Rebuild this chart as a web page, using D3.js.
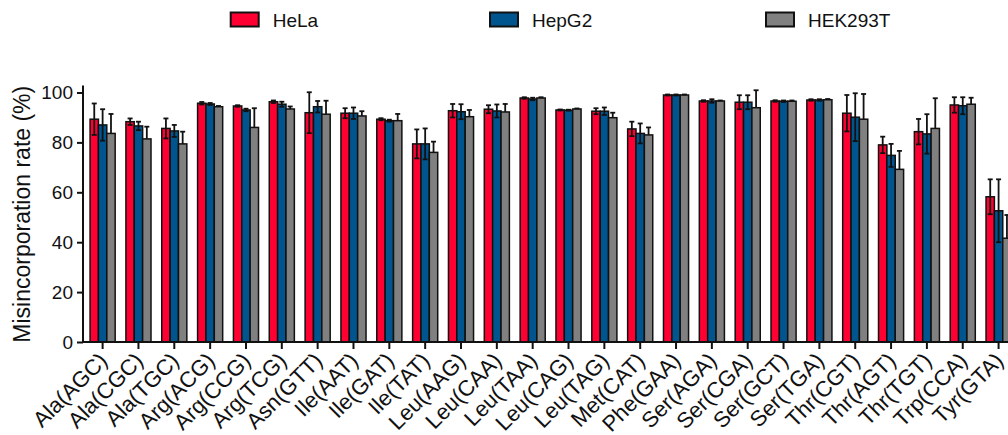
<!DOCTYPE html>
<html>
<head>
<meta charset="utf-8">
<script src="https://cdn.jsdelivr.net/npm/d3@7"></script>
<style>
    body { margin: 0; background: #fff; }
    text { font-family: "Liberation Sans", Arial, sans-serif; fill: #111; }
</style>
</head>
<body>
<div id="chart"></div>
<script>
// tRNA categories
const categories = ["Ala(AGC)", "Ala(CGC)", "Ala(TGC)", "Arg(ACG)", "Arg(CCG)", "Arg(TCG)", "Asn(GTT)",
    "Ile(AAT)", "Ile(GAT)", "Ile(TAT)", "Leu(AAG)", "Leu(CAA)", "Leu(TAA)", "Leu(CAG)", "Leu(TAG)",
    "Met(CAT)", "Phe(GAA)", "Ser(AGA)", "Ser(CGA)", "Ser(GCT)", "Ser(TGA)", "Thr(CGT)", "Thr(AGT)",
    "Thr(TGT)", "Trp(CCA)", "Tyr(GTA)"];

const seriesNames = ["HeLa", "HepG2", "HEK293T"];

// Mean values (%)
const hela = [89.3, 88.3, 85.6, 95.7, 94.6, 96.3, 91.9, 91.7, 89.3, 79.4, 92.7, 93.3, 97.8, 93.0, 92.5,
    85.4, 99.0, 96.6, 96.1, 96.6, 97.0, 91.7, 79.0, 84.3, 95.0, 58.2];
const hepg2 = [87.0, 86.6, 84.6, 95.4, 93.0, 95.3, 94.3, 91.7, 88.7, 79.4, 92.3, 92.6, 97.4, 92.9, 92.5,
    83.6, 99.0, 96.6, 96.1, 96.5, 97.0, 90.1, 74.8, 83.4, 94.7, 52.6];
const hek293t = [83.6, 81.4, 79.4, 94.3, 86.0, 93.4, 91.3, 90.6, 88.7, 76.0, 90.3, 92.2, 97.8, 93.4, 89.9,
    83.0, 99.0, 96.6, 93.9, 96.5, 97.1, 89.3, 69.2, 85.6, 95.3, 41.6];

// Error (SD)
const helaErr = [6.3, 1.3, 4.0, 0.5, 0.3, 0.5, 8.2, 2.0, 0.4, 5.8, 2.7, 1.6, 0.3, 0.2, 1.2,
    2.9, 0.2, 0.3, 2.8, 0.3, 0.3, 7.3, 3.3, 5.1, 3.1, 7.0];
const hepg2Err = [6.3, 1.7, 2.4, 0.4, 0.5, 1.0, 2.3, 2.3, 0.4, 6.2, 3.0, 2.6, 0.5, 0.2, 1.5,
    4.0, 0.2, 0.7, 2.8, 0.3, 0.3, 9.6, 4.6, 7.9, 3.4, 12.6];
const hek293tErr = [7.8, 4.9, 4.9, 0.3, 7.7, 1.0, 5.4, 1.9, 2.7, 4.3, 2.7, 3.2, 0.3, 0.2, 2.0,
    3.0, 0.2, 0.2, 7.0, 0.3, 0.3, 10.1, 7.4, 12.1, 2.6, 9.3];

const yTicks = [0, 20, 40, 60, 80, 100];

const colors = { "HeLa": "#ff0033", "HepG2": "#00558e", "HEK293T": "#808080" };

const values = { "HeLa": hela, "HepG2": hepg2, "HEK293T": hek293t };
const errors = { "HeLa": helaErr, "HepG2": hepg2Err, "HEK293T": hek293tErr };

// flat rows for drawing
const rows = [];
categories.forEach((c, i) => {
    seriesNames.forEach(s => {
        rows.push({ cat: c, series: s, value: values[s][i], err: errors[s][i] });
    });
});

const width = 1008, height = 435;

const svg = d3.select("#chart")
    .append("svg")
    .attr("width", width)
    .attr("height", height);

// Scales
const x = d3.scaleBand()
    .domain(categories)
    .range([84.7, 1016.5])
    .paddingInner(0.3)
    .paddingOuter(0.15);

const xs = d3.scaleBand()
    .domain(seriesNames)
    .range([0, x.bandwidth()]);

const y = d3.scaleLinear()
    .domain([0, 100])
    .range([342, 92.5]);

const axisX = 83;

// Bars
svg.selectAll(".bar")
    .data(rows)
    .enter().append("rect")
    .attr("class", "bar")
    .attr("x", d => x(d.cat) + xs(d.series))
    .attr("y", d => y(d.value))
    .attr("width", xs.bandwidth())
    .attr("height", d => y(0) - y(d.value))
    .attr("fill", d => colors[d.series])
    .attr("stroke", "#111")
    .attr("stroke-width", 1.5);

// Error bars (HEK293T only shows the upper whisker)
const eb = svg.append("g")
    .attr("stroke", "#111")
    .attr("stroke-width", 1.8)
    .attr("fill", "none");

rows.forEach(d => {
    const cx = x(d.cat) + xs(d.series) + xs.bandwidth() / 2;
    const top = y(d.value + d.err);
    const bot = d.series === "HEK293T" ? y(d.value) : y(d.value - d.err);
    eb.append("line").attr("x1", cx).attr("x2", cx).attr("y1", top).attr("y2", bot);
    eb.append("line").attr("x1", cx - 2.5).attr("x2", cx + 2.5).attr("y1", top).attr("y2", top);
    if (d.series !== "HEK293T") {
        eb.append("line").attr("x1", cx - 2.5).attr("x2", cx + 2.5).attr("y1", bot).attr("y2", bot);
    }
});

// Y Axis
const yAxis = svg.append("g")
    .attr("transform", `translate(${axisX},0)`)
    .call(d3.axisLeft(y).tickValues(yTicks).tickSize(6).tickPadding(4));
yAxis.select(".domain").remove();
yAxis.append("line")
    .attr("x1", 0).attr("x2", 0)
    .attr("y1", y(102.8)).attr("y2", y(0))
    .attr("stroke", "#111").attr("stroke-width", 2);
yAxis.selectAll(".tick line").attr("stroke", "#111").attr("stroke-width", 2);
yAxis.selectAll(".tick text")
    .style("font-family", "'Liberation Sans', Arial, sans-serif")
    .style("font-size", "19px")
    .attr("fill", "#111");

// Y axis label
svg.append("text")
    .attr("transform", `translate(30,${(y(0) + y(100)) / 2 - 3}) rotate(-90)`)
    .style("text-anchor", "middle")
    .style("font-size", "23px")
    .text("Misincorporation rate (%)");

// X Axis
svg.append("line")
    .attr("x1", axisX - 1).attr("x2", width)
    .attr("y1", y(0)).attr("y2", y(0))
    .attr("stroke", "#111").attr("stroke-width", 2);

const xt = svg.append("g")
    .selectAll(".xtick")
    .data(categories)
    .enter().append("g")
    .attr("class", "xtick")
    .attr("transform", d => `translate(${x(d) + x.bandwidth() / 2},${y(0)})`);

xt.append("line")
    .attr("y1", 0).attr("y2", 7)
    .attr("stroke", "#111").attr("stroke-width", 2);

xt.append("text")
    .attr("transform", "translate(6,20) rotate(-45)")
    .style("text-anchor", "end")
    .style("font-size", "22px")
    .text(d => d);

// Legend
const legendX = [230.7, 490, 766];
const legend = svg.selectAll(".legend")
    .data(seriesNames)
    .enter().append("g")
    .attr("class", "legend")
    .attr("transform", (d, i) => `translate(${legendX[i]},12.5)`);

legend.append("rect")
    .attr("width", 28)
    .attr("height", 14)
    .attr("fill", d => colors[d])
    .attr("stroke", "#111")
    .attr("stroke-width", 2);

legend.append("text")
    .attr("x", 42)
    .attr("y", 14)
    .style("font-size", "19px")
    .text(d => d);
</script>
</body>
</html>
